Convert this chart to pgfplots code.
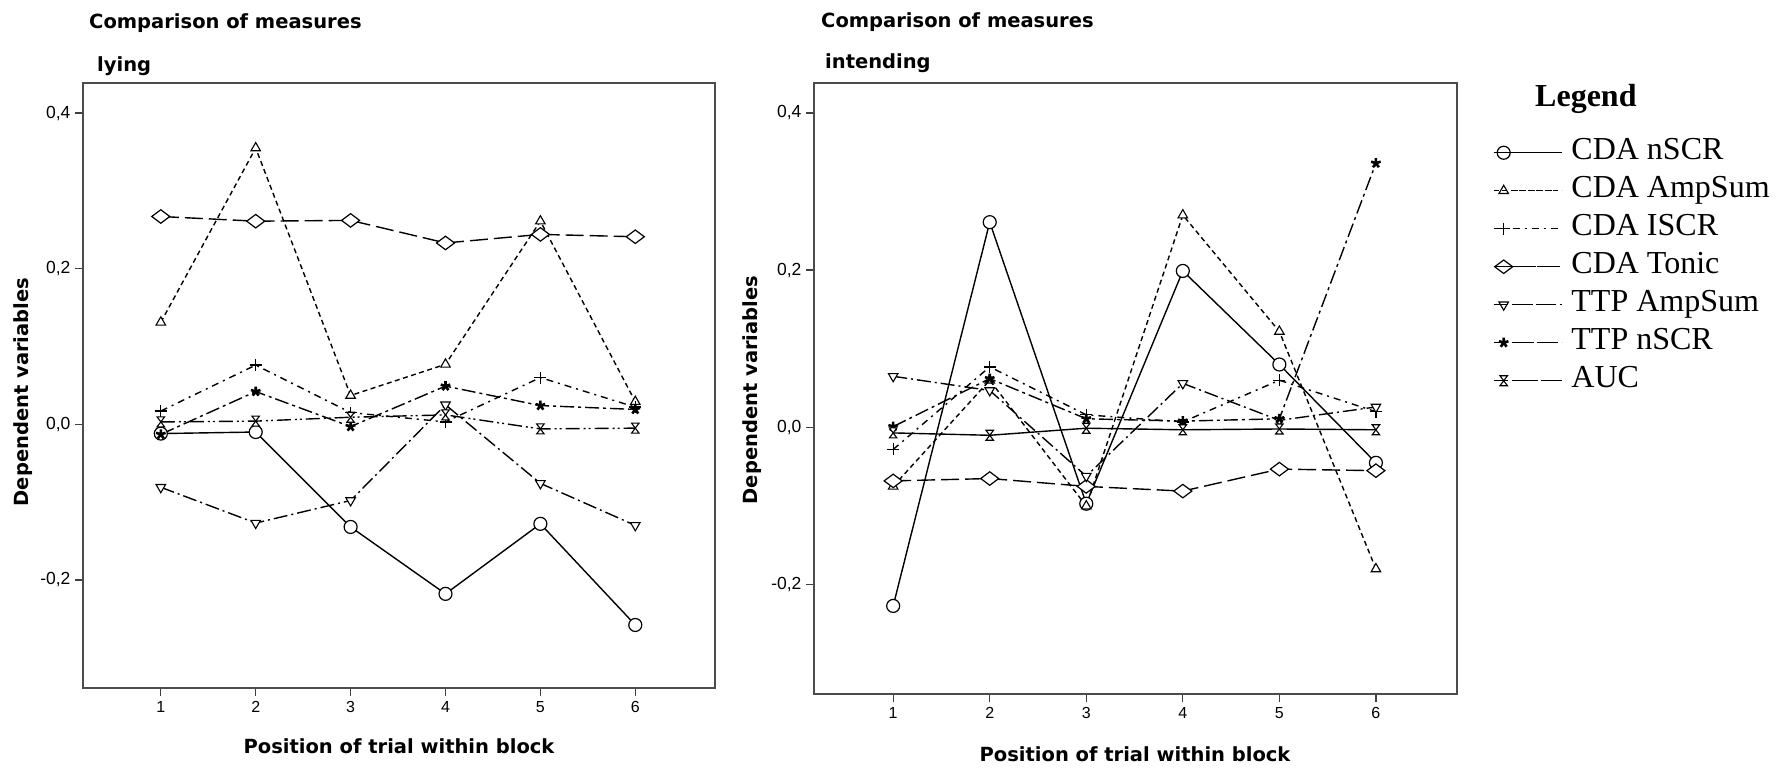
\documentclass[border=0pt]{standalone}
\usepackage{pgfplots}
\pgfplotsset{compat=1.18}
\usepackage{fontspec}
\setmainfont{Liberation Sans}
\newfontfamily\djv{DejaVu Sans}
\newfontfamily\lser{Liberation Serif}

\pgfdeclareplotmark{hourglass}{%
  \pgfpathmoveto{\pgfqpoint{-0.75\pgfplotmarksize}{\pgfplotmarksize}}%
  \pgfpathlineto{\pgfqpoint{0.75\pgfplotmarksize}{\pgfplotmarksize}}%
  \pgfpathlineto{\pgfqpoint{-0.75\pgfplotmarksize}{-\pgfplotmarksize}}%
  \pgfpathlineto{\pgfqpoint{0.75\pgfplotmarksize}{-\pgfplotmarksize}}%
  \pgfpathclose
  \pgfusepathqfillstroke}

\pgfplotsset{
  sA/.style={black, line width=1.4pt, solid, mark=*, mark size=6.5pt, mark options={solid, fill=white, line width=1.2pt}},
  sB/.style={black, line width=1.4pt, dash pattern=on 5pt off 3.5pt, mark=triangle*, mark size=5.5pt, mark options={solid, fill=white, line width=1.1pt}},
  sC/.style={black, line width=1.4pt, dash pattern=on 7pt off 5pt on 2pt off 5pt, mark=+, mark size=6pt, mark options={solid, line width=1.3pt}},
  sD/.style={black, line width=1.4pt, dash pattern=on 18pt off 6pt, mark=diamond*, mark size=9pt, mark options={solid, fill=white, rotate=90, line width=1.2pt}},
  sE/.style={black, line width=1.4pt, dash pattern=on 14pt off 4pt on 2pt off 4pt, mark=triangle*, mark size=5.5pt, mark options={solid, fill=white, rotate=180, line width=1.1pt}},
  sF/.style={black, line width=1.4pt, dash pattern=on 14pt off 4pt on 3pt off 4pt, mark=star, mark size=5pt, mark options={solid, line width=2.6pt}},
  sG/.style={black, line width=1.4pt, dash pattern=on 14pt off 4pt on 2pt off 3pt on 2pt off 4pt, mark=hourglass, mark size=5pt, mark options={solid, fill=white, line width=1.1pt}},
  base/.style={
    scale only axis,
    xmin=0.18, xmax=6.84,
    xtick={1,2,3,4,5,6},
    xticklabels={1,2,3,4,5,6},
    ytick={-0.2,0,0.2,0.4},
    tick align=outside,
    xtick pos=bottom, ytick pos=left,
    major tick length=8pt,
    tick style={black!75, line width=1.3pt},
    axis line style={draw=black!70, line width=1.8pt},
    /pgf/number format/.cd, use comma, fixed, fixed zerofill, precision=1, assume math mode=true,
    /pgfplots/.cd,
    yticklabel style={font=\fontsize{17.5}{20}\selectfont, xshift=-1pt},
    xticklabel style={font=\fontsize{16}{19}\selectfont, yshift=-2pt},
    clip=false,
  },
}

\begin{document}
\begin{tikzpicture}
\useasboundingbox (0pt,0pt) rectangle (1782pt,768pt);

% Left: lying
\begin{axis}[base, at={(83pt,80pt)}, anchor=south west, width=632pt, height=605pt,
  ymin=-0.339, ymax=0.4386]
\addplot[sA] coordinates {(1,-0.012)(2,-0.010)(3,-0.132)(4,-0.218)(5,-0.128)(6,-0.258)};
\addplot[sB] coordinates {(1,0.131)(2,0.355)(3,0.037)(4,0.077)(5,0.261)(6,0.029)};
\addplot[sC] coordinates {(1,0.017)(2,0.076)(3,0.015)(4,0.003)(5,0.060)(6,0.022)};
\addplot[sD] coordinates {(1,0.267)(2,0.261)(3,0.262)(4,0.233)(5,0.244)(6,0.241)};
\addplot[sE] coordinates {(1,-0.081)(2,-0.127)(3,-0.098)(4,0.025)(5,-0.076)(6,-0.130)};
\addplot[sF] coordinates {(1,-0.013)(2,0.042)(3,-0.003)(4,0.049)(5,0.024)(6,0.019)};
\addplot[sG] coordinates {(1,0.003)(2,0.004)(3,0.009)(4,0.012)(5,-0.006)(6,-0.005)};
\end{axis}

% Right: intending
\begin{axis}[base, at={(814pt,74pt)}, anchor=south west, width=643pt, height=611pt,
  ymin=-0.339, ymax=0.438,
  legend style={draw=none, fill=none, at={(axis description cs:1.051,0.914)}, anchor=north west,
    font=\lser\fontsize{32}{36}\selectfont, row sep=8pt,
    nodes={inner xsep=9pt, inner ysep=1pt, text height=21pt, text depth=7pt}},
  legend cell align=left,
  legend image code/.code={\draw (9pt,0pt) -- (50pt,0pt); \draw plot coordinates {(0pt,0pt)}; \path (-10pt,0pt) -- (58pt,0pt);}]
\addplot[sA, forget plot] coordinates {(1,-0.227)(2,0.261)(3,-0.097)(4,0.199)(5,0.080)(6,-0.045)};
\addplot[sB, forget plot] coordinates {(1,-0.075)(2,0.060)(3,-0.100)(4,0.270)(5,0.122)(6,-0.180)};
\addplot[sC, forget plot] coordinates {(1,-0.028)(2,0.077)(3,0.016)(4,0.007)(5,0.060)(6,0.020)};
\addplot[sD, forget plot] coordinates {(1,-0.068)(2,-0.065)(3,-0.075)(4,-0.081)(5,-0.053)(6,-0.055)};
\addplot[sE, forget plot] coordinates {(1,0.065)(2,0.047)(3,-0.062)(4,0.056)(5,0.009)(6,0.026)};
\addplot[sF, forget plot] coordinates {(1,0.001)(2,0.062)(3,0.011)(4,0.008)(5,0.011)(6,0.336)};
\addplot[sG, solid, forget plot] coordinates {(1,-0.007)(2,-0.010)(3,-0.001)(4,-0.003)(5,-0.002)(6,-0.003)};
\addlegendimage{sA}\addlegendentry{CDA nSCR}
\addlegendimage{sB}\addlegendentry{CDA AmpSum}
\addlegendimage{sC}\addlegendentry{CDA ISCR}
\addlegendimage{sD}\addlegendentry{CDA Tonic}
\addlegendimage{sE}\addlegendentry{TTP AmpSum}
\addlegendimage{sF}\addlegendentry{TTP nSCR}
\addlegendimage{sG}\addlegendentry{AUC}
\end{axis}

% Titles and labels
\node[anchor=base west, inner sep=0pt, font=\djv\bfseries\fontsize{19.5}{23}\selectfont] at (89pt,739pt) {Comparison of measures};
\node[anchor=base west, inner sep=0pt, font=\djv\bfseries\fontsize{19.5}{23}\selectfont] at (97pt,696pt) {lying};
\node[anchor=base west, inner sep=0pt, font=\djv\bfseries\fontsize{19.5}{23}\selectfont] at (821pt,740pt) {Comparison of measures};
\node[anchor=base west, inner sep=0pt, font=\djv\bfseries\fontsize{19.5}{23}\selectfont] at (825pt,699pt) {intending};
\node[rotate=90, inner sep=0pt, font=\djv\bfseries\fontsize{19.5}{23}\selectfont] at (23pt,376pt) {Dependent variables};
\node[rotate=90, inner sep=0pt, font=\djv\bfseries\fontsize{19.5}{23}\selectfont] at (752pt,378pt) {Dependent variables};
\node[anchor=base, inner sep=0pt, font=\djv\bfseries\fontsize{19.5}{23}\selectfont] at (399pt,14pt) {Position of trial within block};
\node[anchor=base, inner sep=0pt, font=\djv\bfseries\fontsize{19.5}{23}\selectfont] at (1135pt,7pt) {Position of trial within block};
\node[anchor=base west, inner sep=0pt, font=\lser\bfseries\fontsize{32}{36}\selectfont] at (1535pt,661pt) {Legend};
\end{tikzpicture}
\end{document}
